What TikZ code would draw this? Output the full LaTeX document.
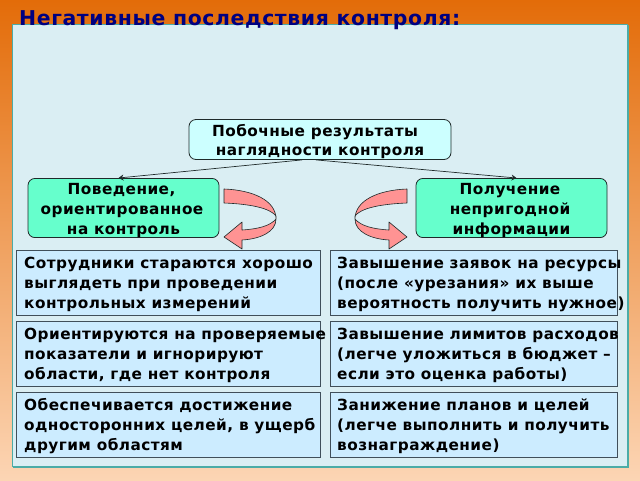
\documentclass[tikz,border=0pt]{standalone}
\usepackage{fontspec}
\setmainfont{DejaVu Sans}
\usetikzlibrary{arrows.meta,calc}
\definecolor{panelfill}{HTML}{DAEEF3}
\definecolor{panelline}{HTML}{4BACA6}
\definecolor{topfill}{HTML}{CCFFFF}
\definecolor{midfill}{HTML}{66FFCC}
\definecolor{cellfill}{HTML}{CCECFF}
\definecolor{edgecol}{HTML}{1F2A2A}
\definecolor{celledge}{HTML}{404F5A}
\definecolor{arrowfill}{HTML}{FF9393}
\definecolor{titlecol}{HTML}{000080}
\definecolor{bgtop}{HTML}{E36C09}
\definecolor{bgbot}{HTML}{FCD5B4}
\newfontfamily\trackfont[LetterSpace=3]{DejaVu Sans}
\newcommand{\lowerby}[1]{\rule{0pt}{#1}}
\tikzset{
  roundbox/.style={draw=edgecol,line width=0.8pt,rounded corners=7pt,inner sep=0pt,align=center,font=\trackfont\fontsize{15.3}{20}\bfseries\selectfont,text=black},
  cell/.style={draw=celledge,line width=1pt,fill=cellfill,minimum width=304pt,minimum height=65pt,inner sep=0pt,anchor=north west},
  celltext/.style={inner sep=0pt,anchor=west,align=left,font=\trackfont\fontsize{15.3}{20}\bfseries\selectfont,text=black},
  link/.style={draw=edgecol,line width=0.7pt,-{Stealth[length=5pt,width=6pt]}},
  curlarrow/.style={draw=edgecol,line width=0.6pt,fill=arrowfill,line join=round}
}
\begin{document}
\begin{tikzpicture}[x=1pt,y=-1pt]
\useasboundingbox (0,0) rectangle (640,480);
\path[top color=bgtop,bottom color=bgbot] (0,0) rectangle (640,480);
\fill[panelline] (13,25) rectangle (629,468);
\draw[panelline,line width=1pt,fill=panelfill] (12.5,24.5) rectangle (627.5,466.5);
\node[anchor=west,inner sep=0pt,text=titlecol,font=\trackfont\fontsize{20.4}{24}\bfseries\selectfont] (title) at (19,20) {Негативные последствия контроля:};

\node[roundbox,fill=topfill,minimum width=262pt,minimum height=40pt,font=\trackfont\fontsize{15.3}{19}\bfseries\selectfont] (top) at (320,139.5) {\lowerby{17pt}Побочные результаты\kern 10pt\\наглядности контроля};
\node[roundbox,fill=midfill,minimum width=191pt,minimum height=58pt] (left) at (123.5,208) {\lowerby{16pt}Поведение,\kern 4pt\\ориентированное\kern 3pt\\на контроль};
\node[roundbox,fill=midfill,minimum width=191pt,minimum height=58pt] (right) at (511.5,208) {\lowerby{16pt}Получение\kern 3pt\\непригодной\kern 3pt\\информации};

\coordinate (lfrom) at ($(top.south)+(-18,0)$);
\coordinate (rfrom) at ($(top.south)+(-4,0)$);
\coordinate (lto) at ($(left.north)+(-5,0)$);
\coordinate (rto) at ($(right.north)+(5,0)$);
\draw[link] (lfrom) -- (lto);
\draw[link] (rfrom) -- (rto);

\draw[curlarrow] (224,189) .. controls (252,190) and (276,200) .. (276,219)
  .. controls (270,226) and (258,229) .. (242,230) -- (242,222) -- (224,237) -- (242,249) -- (242,240)
  .. controls (260,239) and (276,232) .. (276,219) -- (276,216)
  .. controls (270,208) and (250,204) .. (224,203) -- cycle;
\draw[curlarrow] (407,189) .. controls (379,190) and (355,200) .. (355,219)
  .. controls (361,226) and (373,229) .. (389,230) -- (389,222) -- (407,237) -- (389,249) -- (389,240)
  .. controls (371,239) and (355,232) .. (355,219) -- (355,216)
  .. controls (361,208) and (381,204) .. (407,203) -- cycle;

\node[cell] (c1) at (16,249.5) {};
\node[cell] (c2) at (16,320.5) {};
\node[cell] (c3) at (16,391.5) {};
\node[cell,minimum width=287pt] (d1) at (330,249.5) {};
\node[cell,minimum width=287pt] (d2) at (330,320.5) {};
\node[cell,minimum width=287pt] (d3) at (330,391.5) {};
\node[celltext] (t1) at (24,284) {Сотрудники стараются хорошо\\выглядеть при проведении\\контрольных измерений};
\node[celltext] (t2) at (24,355) {Ориентируются на проверяемые\\показатели и игнорируют\\области, где нет контроля};
\node[celltext] (t3) at (24,426) {Обеспечивается достижение\\односторонних целей, в ущерб\\другим областям};
\node[celltext] (u1) at (337,284) {Завышение заявок на ресурсы\\(после «урезания» их выше\\вероятность получить нужное)};
\node[celltext] (u2) at (337,355) {Завышение лимитов расходов\\(легче уложиться в бюджет –\\если это оценка работы)};
\node[celltext] (u3) at (337,426) {Занижение планов и целей\\(легче выполнить и получить\\вознаграждение)};
\end{tikzpicture}
\end{document}
